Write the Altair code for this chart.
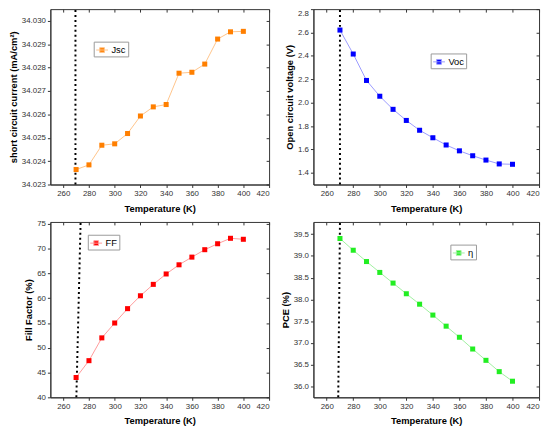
import altair as alt
import pandas as pd

temperature = [270, 280, 290, 300, 310, 320, 330, 340, 350, 360, 370, 380, 390, 400]
jsc = [34.02364, 34.02384, 34.02468, 34.02474, 34.02518, 34.02593, 34.02632,
       34.02642, 34.02776, 34.02780, 34.02815, 34.02922, 34.02953, 34.02955]
voc = [2.621, 2.416, 2.190, 2.055, 1.943, 1.848, 1.764, 1.700, 1.638, 1.588,
       1.546, 1.509, 1.476, 1.473]
ff = [44.0, 47.4, 52.0, 55.0, 57.9, 60.5, 62.8, 64.9, 66.75, 68.3, 69.8, 71.0,
      72.1, 71.9]
pce = [39.40, 39.13, 38.87, 38.62, 38.375, 38.13, 37.89, 37.64, 37.385, 37.13,
       36.86, 36.60, 36.34, 36.12]

x_ticks = [260, 280, 300, 320, 340, 360, 380, 400, 420]
jsc_ticks = [34.023, 34.024, 34.025, 34.026, 34.027, 34.028, 34.029, 34.030]
voc_ticks = [1.4, 1.6, 1.8, 2.0, 2.2, 2.4, 2.6, 2.8]
ff_ticks = [40, 45, 50, 55, 60, 65, 70, 75]
pce_ticks = [36.0, 36.5, 37.0, 37.5, 38.0, 38.5, 39.0, 39.5]

FONT = "Liberation Sans"
SYMBOL = "M-1,0H1M-0.4,-0.4H0.4V0.4H-0.4Z"


def panel(values, name, ytitle, ydom, yticks, yfmt, strong, light, lx, ly, vx, w, h,
          flush=False):
    df = pd.DataFrame({"T": temperature, "v": values, "s": [name] * len(temperature)})
    vdf = pd.DataFrame({"x1": [vx[0]], "x2": [vx[1]], "y1": [ydom[0]], "y2": [ydom[1]]})
    xs = alt.Scale(domain=[250, 420], nice=False, zero=False)
    ys = alt.Scale(domain=ydom, nice=False, zero=False)
    common = dict(grid=False, tickSize=3, tickColor="#333", domainColor="#333",
                  labelFont=FONT, labelFontSize=8, labelColor="#333", labelPadding=2,
                  titleFont=FONT, titleFontSize=9.5, titleFontWeight="bold",
                  titleColor="black")
    xax = alt.Axis(orient="bottom", title="Temperature (K)", values=x_ticks,
                   titlePadding=6, **common)
    yax = alt.Axis(orient="left", title=ytitle, values=yticks, format=yfmt,
                   titlePadding=3, labelFlush=flush, **common)
    mx = alt.Axis(orient="bottom", offset=-h, labels=False, title=None, domain=False,
                  values=x_ticks, tickSize=3, tickColor="#333", grid=False)
    my = alt.Axis(orient="left", offset=-w, labels=False, title=None, domain=False,
                  values=yticks, tickSize=3, tickColor="#333", grid=False)
    vl = alt.Chart(vdf).mark_rule(color="black", strokeWidth=2, strokeDash=[2, 3]).encode(
        x=alt.X("x1:Q", scale=xs, axis=mx),
        x2="x2:Q",
        y=alt.Y("y1:Q", scale=ys, axis=my),
        y2="y2:Q",
    )
    line = alt.Chart(df).mark_line(color=light, strokeWidth=1).encode(
        x=alt.X("T:Q", scale=xs, axis=xax),
        y=alt.Y("v:Q", scale=ys, axis=yax),
    )
    pts = alt.Chart(df).mark_point(shape="square", filled=True, size=26, opacity=1).encode(
        x=alt.X("T:Q", scale=xs, axis=None),
        y=alt.Y("v:Q", scale=ys, axis=None),
        color=alt.Color("s:N", scale=alt.Scale(range=[strong]), legend=alt.Legend(
            title=None, orient="none", legendX=lx, legendY=ly,
            strokeColor="#999", fillColor="white", padding=2,
            labelFont=FONT, labelFontSize=9.5, labelColor="black", labelOffset=3,
            symbolType=SYMBOL, symbolSize=144,
            symbolFillColor=strong, symbolStrokeColor=light, symbolStrokeWidth=1,
            symbolOpacity=1,
        )),
    )
    return alt.layer(vl, line, pts).resolve_axis(x="independent", y="independent").properties(
        width=w, height=h)


W1, W2, H = 222, 229, 178
p1 = panel(jsc, "Jsc", "short circuit current (mA/cm²)", [34.023, 34.0305], jsc_ticks, ".3f",
           "#FF7F00", "#FFC48A", 44, 33, [269.5, 269.5], W1, H)
p2 = panel(voc, "Voc", "Open circuit voltage (V)", [1.3, 2.8], voc_ticks, ".1f",
           "#0000FF", "#9A9AFF", 119, 45, [270, 270], W2, H, flush=True)
p3 = panel(ff, "FF", "Fill Factor (%)", [40, 75.4], ff_ticks, "d",
           "#FF0000", "#FF9A9A", 38, 13, [270.2, 273.5], W1, H)
p4 = panel(pce, "η", "PCE (%)", [35.75, 39.78], pce_ticks, ".1f",
           "#22EE22", "#A0F0A0", 139, 23, [268.7, 270], W2, H)

chart = alt.concat(p1, p2, p3, p4, columns=2, spacing={"row": 38, "column": 45},
                   bounds="flush").properties(
    padding={"left": 0, "top": -4, "right": 2, "bottom": 0}
).configure_view(stroke="#333", strokeWidth=1).resolve_scale(color="independent")

chart.save("out.html", embed_options={"renderer": "svg", "actions": False})
